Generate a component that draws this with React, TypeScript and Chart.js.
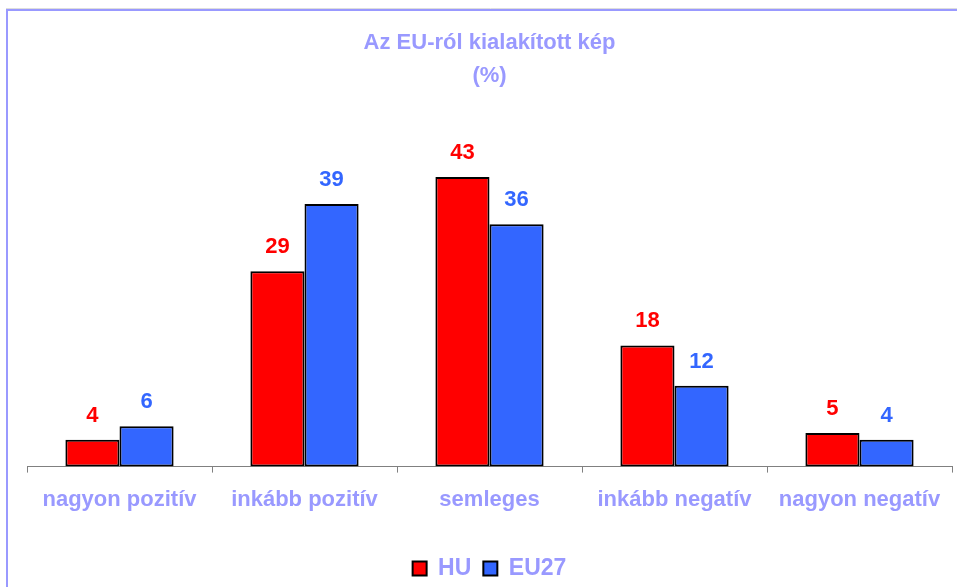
import React, { useEffect, useRef } from "react";
import { Chart, registerables } from "chart.js";

Chart.register(...registerables);

const categories = ["nagyon pozitív", "inkább pozitív", "semleges", "inkább negatív", "nagyon negatív"];
const huValues = [4, 29, 43, 18, 5];
const eu27Values = [6, 39, 36, 12, 4];
const titleLines = ["Az EU-ról kialakított kép", "(%)"];
const seriesNames = ["HU", "EU27"];

const FONT = "'Liberation Sans', Arial, sans-serif";
const LILAC = "#9999ff";
const RED = "#ff0000";
const BLUE = "#3366ff";

const framePlugin = {
  id: "frame",
  beforeDraw(chart: any) {
    const { ctx, width, height } = chart;
    ctx.save();
    ctx.fillStyle = "#ffffff";
    ctx.fillRect(0, 0, width, height);
    ctx.strokeStyle = "#dddddd";
    ctx.lineWidth = 1;
    ctx.beginPath();
    ctx.moveTo(6, 8.5);
    ctx.lineTo(width, 8.5);
    ctx.stroke();
    ctx.strokeStyle = LILAC;
    ctx.lineWidth = 2;
    ctx.beginPath();
    ctx.moveTo(7, height + 5);
    ctx.lineTo(7, 10);
    ctx.lineTo(width + 5, 10);
    ctx.stroke();
    ctx.restore();
  },
};

const labelPlugin = {
  id: "valueLabels",
  afterDatasetsDraw(chart: any) {
    const { ctx } = chart;
    ctx.save();
    ctx.font = `bold 22px ${FONT}`;
    ctx.textAlign = "center";
    ctx.textBaseline = "alphabetic";
    chart.data.datasets.forEach((ds: any, i: number) => {
      const meta = chart.getDatasetMeta(i);
      ctx.fillStyle = ds.labelColor;
      meta.data.forEach((el: any, j: number) => {
        ctx.fillText(String(ds.data[j]), el.x, el.y - 18);
      });
    });
    ctx.restore();
  },
};

export default function App() {
  const ref = useRef<HTMLCanvasElement | null>(null);

  useEffect(() => {
    if (!ref.current) return;
    const chart = new Chart(ref.current, {
      type: "bar",
      data: {
        labels: categories,
        datasets: [
          {
            label: seriesNames[0],
            data: huValues,
            backgroundColor: RED,
            borderColor: "#000000",
            borderWidth: 2,
            borderSkipped: false,
            categoryPercentage: 0.585,
            barPercentage: 1,
            labelColor: RED,
          } as any,
          {
            label: seriesNames[1],
            data: eu27Values,
            backgroundColor: BLUE,
            borderColor: "#000000",
            borderWidth: 2,
            borderSkipped: false,
            categoryPercentage: 0.585,
            barPercentage: 1,
            labelColor: BLUE,
          } as any,
        ],
      },
      options: {
        responsive: false,
        animation: false,
        devicePixelRatio: 1,
        layout: { padding: { left: 27, right: 23, top: 0, bottom: 10 } },
        plugins: {
          title: {
            display: true,
            text: titleLines,
            color: LILAC,
            font: { family: FONT, size: 22, weight: "bold", lineHeight: 1.5 },
            padding: { top: 26, bottom: 38 },
          },
          legend: {
            display: true,
            position: "bottom",
            labels: {
              color: LILAC,
              font: { family: FONT, size: 23, weight: "bold" },
              boxWidth: 14,
              boxHeight: 14,
              padding: 12,
            },
          },
          tooltip: { enabled: false },
        },
        scales: {
          x: {
            grid: {
              display: true,
              drawOnChartArea: false,
              drawTicks: true,
              tickLength: 6,
              color: "#808080",
              offset: true,
            },
            border: { display: true, color: "#808080", width: 1 },
            ticks: {
              color: LILAC,
              font: { family: FONT, size: 22, weight: "bold" },
              padding: 14,
              maxRotation: 0,
              autoSkip: false,
            },
            afterFit: (scale: any) => {
              scale.height += 18;
            },
          } as any,
          y: {
            display: false,
            min: 0,
            max: 50,
          },
        },
      },
      plugins: [framePlugin, labelPlugin],
    });
    return () => chart.destroy();
  }, []);

  return (
    <div style={{ position: "fixed", left: 0, top: 0, width: 957, height: 587, overflow: "hidden", background: "#fff" }}>
      <canvas ref={ref} width={975} height={600} style={{ display: "block" }} />
    </div>
  );
}
